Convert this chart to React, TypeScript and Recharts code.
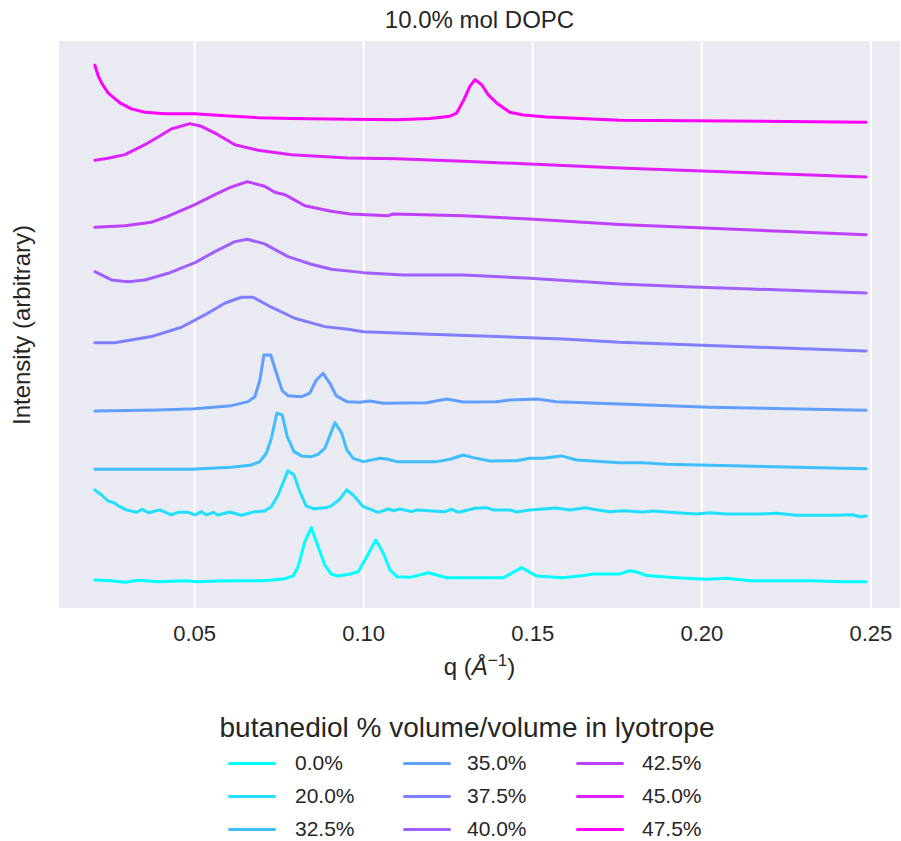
import React from "react";
import { LineChart, Line, XAxis, YAxis, CartesianGrid } from "recharts";

// q ticks and the (hidden) intensity gridline levels
const qTicks = [0.05, 0.1, 0.15, 0.2, 0.25];
const gridLevels = [1, 2, 3, 4];

const labels = ["0.0%", "20.0%", "32.5%", "35.0%", "37.5%", "40.0%", "42.5%", "45.0%", "47.5%"];
const colors = ["#00ffff", "#20dfff", "#40bfff", "#609fff", "#807fff", "#9f60ff", "#bf40ff", "#df20ff", "#ff00ff"];

// [q, intensity (offset, arbitrary)]
const s00: [number, number][] = [
  [0.0205, 0.481], [0.0254, 0.476], [0.0294, 0.464], [0.0333, 0.479], [0.0392, 0.468], [0.0471, 0.476],
  [0.051, 0.468], [0.0569, 0.474], [0.0648, 0.476], [0.0707, 0.476], [0.0767, 0.491], [0.0791, 0.511],
  [0.0806, 0.581], [0.0826, 0.769], [0.0845, 0.875], [0.0865, 0.732], [0.0885, 0.594], [0.0904, 0.526],
  [0.0924, 0.511], [0.096, 0.526], [0.0984, 0.544], [0.1009, 0.656], [0.1036, 0.782], [0.1058, 0.682],
  [0.1078, 0.556], [0.1098, 0.506], [0.1137, 0.501], [0.1191, 0.536], [0.1245, 0.498], [0.1363, 0.498],
  [0.1413, 0.498], [0.1467, 0.574], [0.1511, 0.511], [0.159, 0.498], [0.1649, 0.514], [0.1678, 0.526],
  [0.1757, 0.526], [0.1787, 0.551], [0.1811, 0.539], [0.1836, 0.514], [0.1925, 0.498], [0.2014, 0.486],
  [0.2073, 0.494], [0.2142, 0.476], [0.2319, 0.476], [0.2417, 0.468], [0.2486, 0.468],
];
const s20: [number, number][] = [
  [0.0205, 1.158], [0.0225, 1.12], [0.0244, 1.075], [0.0259, 1.065], [0.0279, 1.032], [0.0298, 1.008],
  [0.0328, 0.99], [0.0345, 1.013], [0.0363, 0.987], [0.0397, 1.008], [0.0431, 0.97], [0.0451, 0.99],
  [0.0481, 0.99], [0.0501, 0.97], [0.052, 0.995], [0.0535, 0.97], [0.0555, 0.99], [0.0569, 0.97],
  [0.0604, 0.992], [0.0638, 0.968], [0.0678, 0.995], [0.0707, 1.0], [0.0727, 1.032], [0.0747, 1.12],
  [0.0776, 1.303], [0.0794, 1.271], [0.0811, 1.145], [0.083, 1.038], [0.085, 1.017], [0.0889, 1.025],
  [0.0904, 1.038], [0.0929, 1.088], [0.095, 1.158], [0.0969, 1.12], [0.0999, 1.032], [0.1043, 0.99],
  [0.1073, 1.015], [0.1087, 1.002], [0.1107, 1.015], [0.1142, 0.995], [0.1157, 1.008], [0.124, 0.995],
  [0.126, 1.013], [0.128, 0.99], [0.1329, 1.02], [0.1363, 1.025], [0.1383, 1.008], [0.1432, 1.008],
  [0.1452, 0.992], [0.1491, 1.008], [0.1531, 1.015], [0.157, 1.023], [0.161, 1.008], [0.1654, 1.025],
  [0.1678, 1.013], [0.1728, 0.995], [0.1767, 1.002], [0.1826, 0.992], [0.1856, 1.0], [0.1925, 0.987],
  [0.1984, 0.977], [0.2023, 0.987], [0.2073, 0.977], [0.2171, 0.977], [0.222, 0.983], [0.228, 0.968],
  [0.2398, 0.968], [0.2447, 0.972], [0.2467, 0.957], [0.2486, 0.962],
];
const s32: [number, number][] = [
  [0.0205, 1.314], [0.0491, 1.314], [0.0609, 1.329], [0.0668, 1.346], [0.0693, 1.371], [0.0712, 1.434],
  [0.0727, 1.547], [0.0743, 1.735], [0.0759, 1.722], [0.0774, 1.559], [0.0794, 1.446], [0.0816, 1.414],
  [0.0845, 1.408], [0.0865, 1.426], [0.0885, 1.471], [0.0915, 1.664], [0.0935, 1.584], [0.095, 1.459],
  [0.0969, 1.396], [0.0999, 1.371], [0.1048, 1.396], [0.1068, 1.391], [0.1098, 1.371], [0.1216, 1.371],
  [0.1255, 1.389], [0.1294, 1.421], [0.1324, 1.401], [0.1373, 1.376], [0.1452, 1.378], [0.1491, 1.396],
  [0.1531, 1.396], [0.1585, 1.414], [0.1629, 1.383], [0.1757, 1.363], [0.1826, 1.363], [0.1895, 1.351],
  [0.2122, 1.338], [0.2486, 1.318],
];
const s35: [number, number][] = [
  [0.0205, 1.752], [0.0392, 1.759], [0.0501, 1.769], [0.0609, 1.792], [0.0658, 1.822], [0.0678, 1.859],
  [0.0693, 1.985], [0.0705, 2.173], [0.0725, 2.173], [0.0742, 2.035], [0.0759, 1.905], [0.0776, 1.867],
  [0.0816, 1.859], [0.084, 1.885], [0.086, 1.985], [0.088, 2.035], [0.09, 1.96], [0.0919, 1.865],
  [0.095, 1.822], [0.0989, 1.817], [0.1019, 1.827], [0.1058, 1.81], [0.1186, 1.814], [0.1245, 1.842],
  [0.1294, 1.82], [0.1393, 1.822], [0.1432, 1.835], [0.1511, 1.842], [0.157, 1.822], [0.1757, 1.805],
  [0.2023, 1.78], [0.2486, 1.757],
];
const s37: [number, number][] = [
  [0.0205, 2.265], [0.0264, 2.265], [0.0372, 2.311], [0.0461, 2.381], [0.053, 2.474], [0.0589, 2.562],
  [0.0638, 2.607], [0.0673, 2.607], [0.0727, 2.532], [0.0796, 2.449], [0.0885, 2.386], [0.0954, 2.366],
  [0.0999, 2.348], [0.1196, 2.329], [0.1393, 2.311], [0.159, 2.293], [0.1757, 2.268], [0.2486, 2.203],
];
const s40: [number, number][] = [
  [0.0205, 2.799], [0.0254, 2.737], [0.0303, 2.724], [0.0353, 2.737], [0.0422, 2.787], [0.0501, 2.867],
  [0.056, 2.95], [0.0619, 3.025], [0.0656, 3.043], [0.0707, 3.008], [0.0776, 2.912], [0.0845, 2.855],
  [0.0904, 2.817], [0.0999, 2.792], [0.1117, 2.774], [0.1294, 2.774], [0.1491, 2.75], [0.1757, 2.707],
  [0.1954, 2.686], [0.2486, 2.639],
];
const s42: [number, number][] = [
  [0.0205, 3.133], [0.0294, 3.145], [0.0372, 3.171], [0.0422, 3.216], [0.0501, 3.303], [0.056, 3.378],
  [0.0609, 3.436], [0.0656, 3.476], [0.0707, 3.441], [0.0737, 3.396], [0.0767, 3.378], [0.0826, 3.295],
  [0.0904, 3.253], [0.096, 3.233], [0.1073, 3.22], [0.1087, 3.233], [0.1294, 3.22], [0.1491, 3.195],
  [0.1757, 3.153], [0.1954, 3.133], [0.2486, 3.077],
];
const s45: [number, number][] = [
  [0.0205, 3.637], [0.0244, 3.652], [0.0294, 3.679], [0.0353, 3.754], [0.0392, 3.812], [0.0431, 3.872],
  [0.0486, 3.912], [0.052, 3.892], [0.0569, 3.829], [0.0619, 3.754], [0.0688, 3.712], [0.0786, 3.679],
  [0.0954, 3.654], [0.1098, 3.649], [0.1294, 3.629], [0.1491, 3.609], [0.1757, 3.579], [0.2486, 3.511],
];
const s47: [number, number][] = [
  [0.0205, 4.351], [0.0215, 4.27], [0.0225, 4.218], [0.0244, 4.143], [0.0279, 4.068], [0.0313, 4.023],
  [0.0353, 3.998], [0.0412, 3.987], [0.0501, 3.987], [0.0589, 3.972], [0.0688, 3.957], [0.0786, 3.95],
  [0.0954, 3.945], [0.1098, 3.942], [0.1196, 3.95], [0.1255, 3.968], [0.1275, 3.992], [0.1294, 4.08],
  [0.1314, 4.193], [0.1329, 4.243], [0.1349, 4.205], [0.1368, 4.13], [0.1393, 4.068], [0.1432, 3.998],
  [0.1472, 3.977], [0.1541, 3.962], [0.1757, 3.938], [0.2486, 3.923],
];

const seriesList = [s00, s20, s32, s35, s37, s40, s42, s45, s47];

const FONT = '"Liberation Sans", Arial, sans-serif';
const TEXT = "#262626";

export default function App() {
  return (
    <div style={{ position: "absolute", left: 0, top: 0, width: 901, height: 841, fontFamily: FONT, color: TEXT, background: "#fff" }}>
      <div style={{ position: "absolute", left: 58, width: 843, top: 6, textAlign: "center", fontSize: 24, lineHeight: "28px" }}>
        10.0% mol DOPC
      </div>
      <div
        style={{
          position: "absolute", left: 22, top: 325, fontSize: 24, whiteSpace: "nowrap",
          transform: "translate(-50%, -50%) rotate(-90deg)",
        }}
      >
        Intensity (arbitrary)
      </div>
      <div style={{ position: "absolute", left: 58, width: 843, top: 646, textAlign: "center", fontSize: 24, lineHeight: "30px" }}>
        q (<i>Å</i><sup style={{ fontSize: 17 }}>−1</sup>)
      </div>

      <LineChart width={901} height={841} margin={{ top: 40, right: 0, bottom: 132, left: 58 }} style={{ position: "absolute", left: 0, top: 0 }}>
        <CartesianGrid fill="#eaeaf2" stroke="#ffffff" strokeWidth={2} />
        <XAxis
          type="number"
          dataKey="q"
          domain={[0.0096, 0.2589]}
          ticks={qTicks}
          allowDataOverflow
          tickFormatter={(v: number) => v.toFixed(2)}
          tick={{ fill: TEXT, fontSize: 22 }}
          axisLine={false}
          tickLine={false}
          tickMargin={10}
          height={100}
        />
        <YAxis
          type="number"
          domain={[0.263, 4.541]}
          ticks={gridLevels}
          allowDataOverflow
          width={0}
          tick={false}
          axisLine={false}
          tickLine={false}
        />
        {seriesList.map((s, i) => (
          <Line
            key={labels[i]}
            data={s.map(([q, v]) => ({ q, v }))}
            dataKey="v"
            type="linear"
            stroke={colors[i]}
            strokeWidth={3}
            strokeLinejoin="round"
            strokeLinecap="round"
            dot={false}
            isAnimationActive={false}
          />
        ))}
      </LineChart>

      <div style={{ position: "absolute", left: 207, width: 520, top: 712, textAlign: "center", fontSize: 28, lineHeight: "32px", whiteSpace: "nowrap" }}>
        butanediol % volume/volume in lyotrope
      </div>
      {labels.map((lab, i) => {
        const col = Math.floor(i / 3);
        const row = i % 3;
        const sx = [228, 403, 576][col];
        const tx = [295, 467, 642][col];
        const cy = [763, 796, 829][row];
        return (
          <React.Fragment key={lab}>
            <div style={{ position: "absolute", left: sx, top: cy - 1.5, width: 48, height: 3, background: colors[i], borderRadius: 2 }} />
            <div style={{ position: "absolute", left: tx, top: cy - 12, fontSize: 21, lineHeight: "24px" }}>{lab}</div>
          </React.Fragment>
        );
      })}
    </div>
  );
}
